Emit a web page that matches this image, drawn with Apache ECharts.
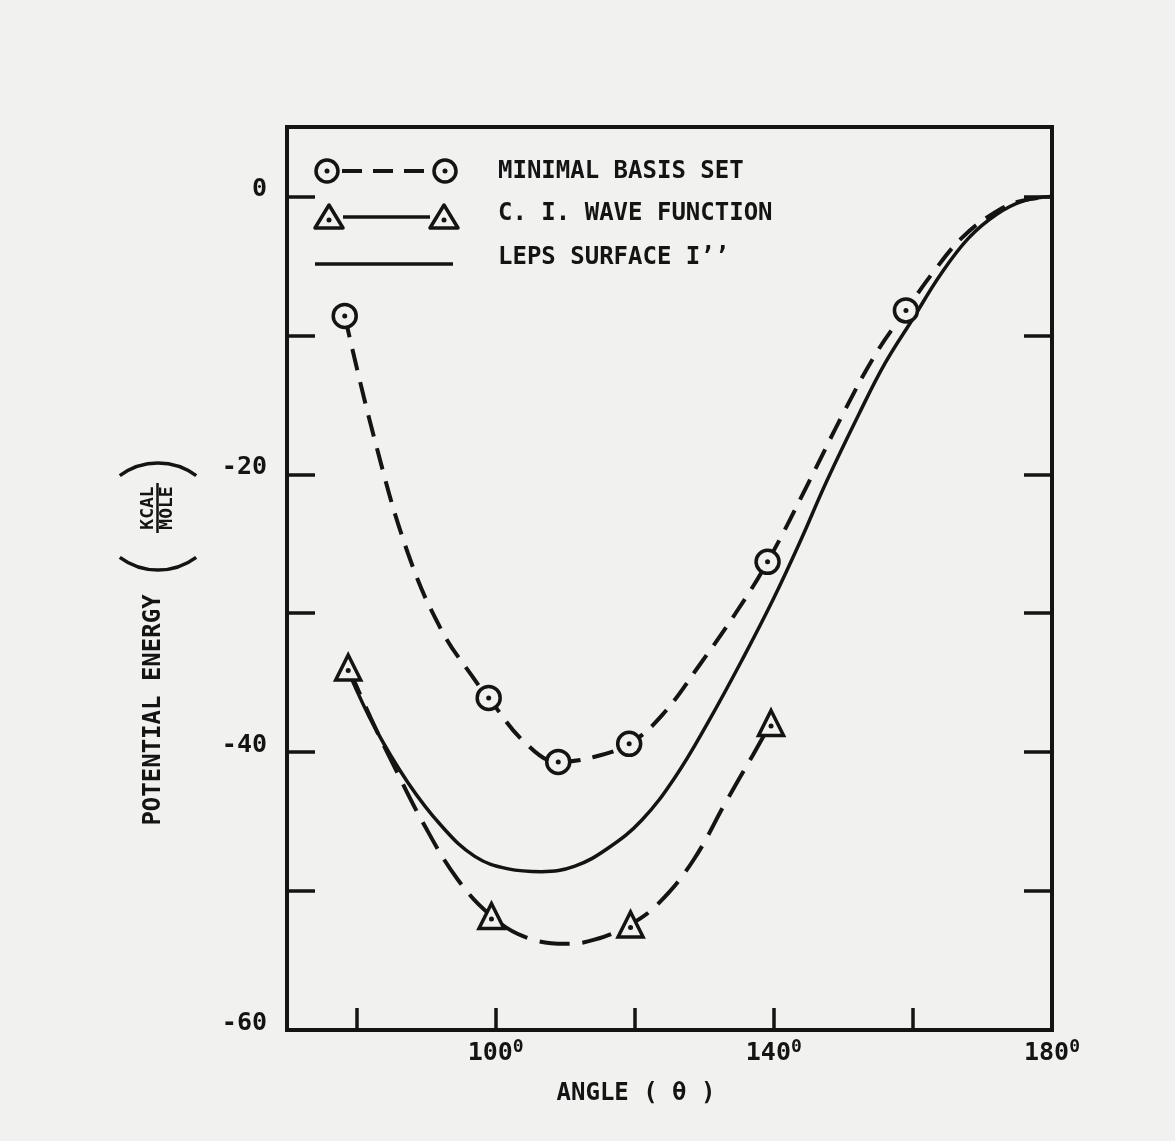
<!DOCTYPE html>
<html>
<head>
<meta charset="utf-8">
<script src="https://cdn.jsdelivr.net/npm/echarts@6/dist/echarts.min.js"></script>
<style>
  html, body { margin: 0; padding: 0; background: #f1f1ef; }
  #chart { width: 1175px; height: 1141px; }
</style>
</head>
<body>
<div id="chart"></div>
<script>
// axis ticks / labels
const angleTicks = [80, 100, 120, 140, 160];
const angleLabels = [100, 140, 180];
const energyTicks = [-50, -40, -30, -20, -10, 0];
const energyLabels = [-60, -40, -20, 0];

// computed points (markers)
const mbsAngle = [78.3, 99, 109, 119.2, 139.1, 159];
const mbsEnergy = [-8.6, -36.1, -40.7, -39.4, -26.3, -8.2];
const ciAngle = [78.8, 99.4, 119.4, 139.6];
const ciEnergy = [-33.9, -51.8, -52.4, -37.9];

// hand-drawn curves
const mbsCurveAngle = [78.3, 82.6, 87.4, 92.2, 97, 99, 104.2, 109, 113.7, 119.2, 124, 129.5, 134.5, 139.1, 145, 150, 154.7, 159, 163, 167, 171, 175, 180];
const mbsCurveEnergy = [-8.6, -17.5, -25.7, -31.2, -34.8, -36.1, -39.3, -40.7, -40.4, -39.4, -37.3, -33.6, -30.0, -26.3, -20.6, -15.6, -11.3, -8.2, -5.4, -3.0, -1.4, -0.4, 0];
const ciCurveAngle = [78.8, 82, 85, 89.8, 94.6, 99.4, 104.2, 110, 114.2, 119.4, 123.6, 128.4, 133.2, 137, 139.6];
const ciCurveEnergy = [-33.9, -37.5, -40.6, -45.3, -49.2, -51.8, -53.3, -53.8, -53.5, -52.4, -50.8, -47.8, -43.5, -40.2, -37.9];
const lepsAngle = [79, 82.6, 87.4, 92.2, 97, 101.8, 106.6, 111.4, 116.2, 121, 125.8, 130.6, 135.5, 140, 144, 147.5, 152.3, 156, 160, 164, 168, 172, 176, 180];
const lepsEnergy = [-34.4, -38.2, -42.2, -45.3, -47.5, -48.4, -48.6, -48.2, -46.9, -44.9, -41.8, -37.8, -33.3, -28.9, -24.6, -20.6, -15.6, -12.0, -8.8, -5.6, -3.0, -1.3, -0.3, 0];

const ink = "#141414";
const paper = "#f1f1ef";
const font = '"DejaVu Sans Mono", "Liberation Mono", monospace';

function pairs(xs, ys) {
  return xs.map((x, i) => [x, ys[i]]);
}

const chart = echarts.init(document.getElementById("chart"));

const lineBase = {
  type: "line",
  smooth: 0.4,
  symbol: "none",
  silent: true,
};

const ringStyle = { color: paper, borderColor: ink, borderWidth: 3.5, opacity: 1 };

// plain text element, optionally rotated / centred
const txt = (text, x, y, size, align, rotation) => ({
  type: "text",
  x: x,
  y: y,
  rotation: rotation || 0,
  style: {
    text: text,
    font: "bold " + size + "px " + font,
    fill: ink,
    align: align || "left",
    verticalAlign: "middle",
  },
});

const tri = (cx, cy) => ({
  type: "polygon",
  shape: { points: [[cx, cy - 12], [cx - 14, cy + 11], [cx + 14, cy + 11]] },
  style: { fill: paper, stroke: ink, lineWidth: 3.5, lineJoin: "round" },
});
const ring = (cx, cy) => ({
  type: "circle",
  shape: { cx: cx, cy: cy, r: 11 },
  style: { fill: paper, stroke: ink, lineWidth: 3.5 },
});
const dot = (cx, cy) => ({
  type: "circle",
  shape: { cx: cx, cy: cy, r: 2.5 },
  style: { fill: ink },
});

const option = {
  backgroundColor: paper,
  animation: false,
  grid: {
    left: 287,
    right: 123,
    top: 127,
    bottom: 111,
    show: true,
    borderColor: ink,
    borderWidth: 4,
  },
  xAxis: {
    type: "value",
    min: 70,
    max: 180,
    axisLine: { show: false, onZero: false },
    splitLine: { show: false },
    axisTick: {
      show: true,
      inside: true,
      length: 22,
      customValues: angleTicks,
      lineStyle: { color: ink, width: 3.5 },
    },
    axisLabel: {
      customValues: angleLabels,
      showMaxLabel: true,
      margin: 8,
      formatter: (v) => "{n|" + v + "}{s|0}",
      rich: {
        n: { fontFamily: font, fontWeight: "bold", fontSize: 25, color: ink, lineHeight: 30 },
        s: { fontFamily: font, fontWeight: "bold", fontSize: 18, color: ink, verticalAlign: "top", lineHeight: 18 },
      },
    },
  },
  yAxis: [
    {
      type: "value",
      min: -60,
      max: 5,
      axisLine: { show: false, onZero: false },
      splitLine: { show: false },
      axisTick: {
        show: true,
        inside: true,
        length: 28,
        customValues: energyTicks,
        lineStyle: { color: ink, width: 3.5 },
      },
      axisLabel: {
        customValues: energyLabels,
        showMinLabel: true,
        margin: 20,
        verticalAlign: "bottom",
        lineHeight: 14,
        fontFamily: font,
        fontWeight: "bold",
        fontSize: 25,
        color: ink,
      },
    },
    {
      type: "value",
      position: "right",
      min: -60,
      max: 5,
      axisLine: { show: false, onZero: false },
      splitLine: { show: false },
      axisLabel: { show: false },
      axisTick: {
        show: true,
        inside: true,
        length: 28,
        customValues: energyTicks,
        lineStyle: { color: ink, width: 3.5 },
      },
    },
  ],
  series: [
    Object.assign({}, lineBase, {
      name: "LEPS SURFACE I''",
      data: pairs(lepsAngle, lepsEnergy),
      lineStyle: { color: ink, width: 3.5 },
    }),
    Object.assign({}, lineBase, {
      name: "MINIMAL BASIS SET",
      data: pairs(mbsCurveAngle, mbsCurveEnergy),
      lineStyle: { color: ink, width: 4, type: [22, 12] },
    }),
    Object.assign({}, lineBase, {
      name: "C. I. WAVE FUNCTION",
      data: pairs(ciCurveAngle, ciCurveEnergy),
      lineStyle: { color: ink, width: 4, type: [30, 13] },
    }),
    {
      type: "scatter",
      data: pairs(mbsAngle, mbsEnergy),
      symbol: "circle",
      symbolSize: 23,
      itemStyle: ringStyle,
      z: 5,
    },
    {
      type: "scatter",
      data: pairs(mbsAngle, mbsEnergy),
      symbol: "circle",
      symbolSize: 5,
      itemStyle: { color: ink, opacity: 1 },
      z: 6,
    },
    {
      type: "scatter",
      data: pairs(ciAngle, ciEnergy),
      symbol: "triangle",
      symbolSize: 25,
      itemStyle: ringStyle,
      z: 5,
    },
    {
      type: "scatter",
      data: pairs(ciAngle, ciEnergy),
      symbol: "circle",
      symbolSize: 5,
      symbolOffset: [0, 3],
      itemStyle: { color: ink, opacity: 1 },
      z: 6,
    },
  ],
  graphic: [
    // legend
    { type: "line", shape: { x1: 342, y1: 171, x2: 432, y2: 171 }, style: { stroke: ink, lineWidth: 4, lineDash: [20, 11] } },
    ring(327, 171), dot(327, 171),
    ring(445, 171), dot(445, 171),
    { type: "line", shape: { x1: 343, y1: 217, x2: 430, y2: 217 }, style: { stroke: ink, lineWidth: 3.5 } },
    tri(329, 217), dot(329, 220),
    tri(444, 217), dot(444, 220),
    { type: "line", shape: { x1: 315, y1: 264, x2: 453, y2: 264 }, style: { stroke: ink, lineWidth: 3.5 } },
    txt("MINIMAL BASIS SET", 498, 172, 24),
    txt("C. I. WAVE FUNCTION", 498, 214, 24),
    txt("LEPS SURFACE I\u2019\u2019", 498, 258, 24),
    // axis titles
    txt("ANGLE ( \u03B8 )", 636, 1094, 24, "center"),
    txt("POTENTIAL ENERGY", 154, 710, 24, "center", Math.PI / 2),
    txt("KCAL", 148, 508, 18, "center", Math.PI / 2),
    txt("MOLE", 167, 508, 18, "center", Math.PI / 2),
    { type: "line", shape: { x1: 157.5, y1: 483, x2: 157.5, y2: 533 }, style: { stroke: ink, lineWidth: 2.5 } },
    {
      type: "arc",
      shape: { cx: 158, cy: 506, r: 64, startAngle: Math.PI / 2 - 0.64, endAngle: Math.PI / 2 + 0.64, clockwise: true },
      style: { stroke: ink, lineWidth: 3.5, fill: null },
    },
    {
      type: "arc",
      shape: { cx: 158, cy: 527, r: 64, startAngle: -Math.PI / 2 - 0.64, endAngle: -Math.PI / 2 + 0.64, clockwise: true },
      style: { stroke: ink, lineWidth: 3.5, fill: null },
    },
  ],
};

chart.setOption(option);
</script>
</body>
</html>
